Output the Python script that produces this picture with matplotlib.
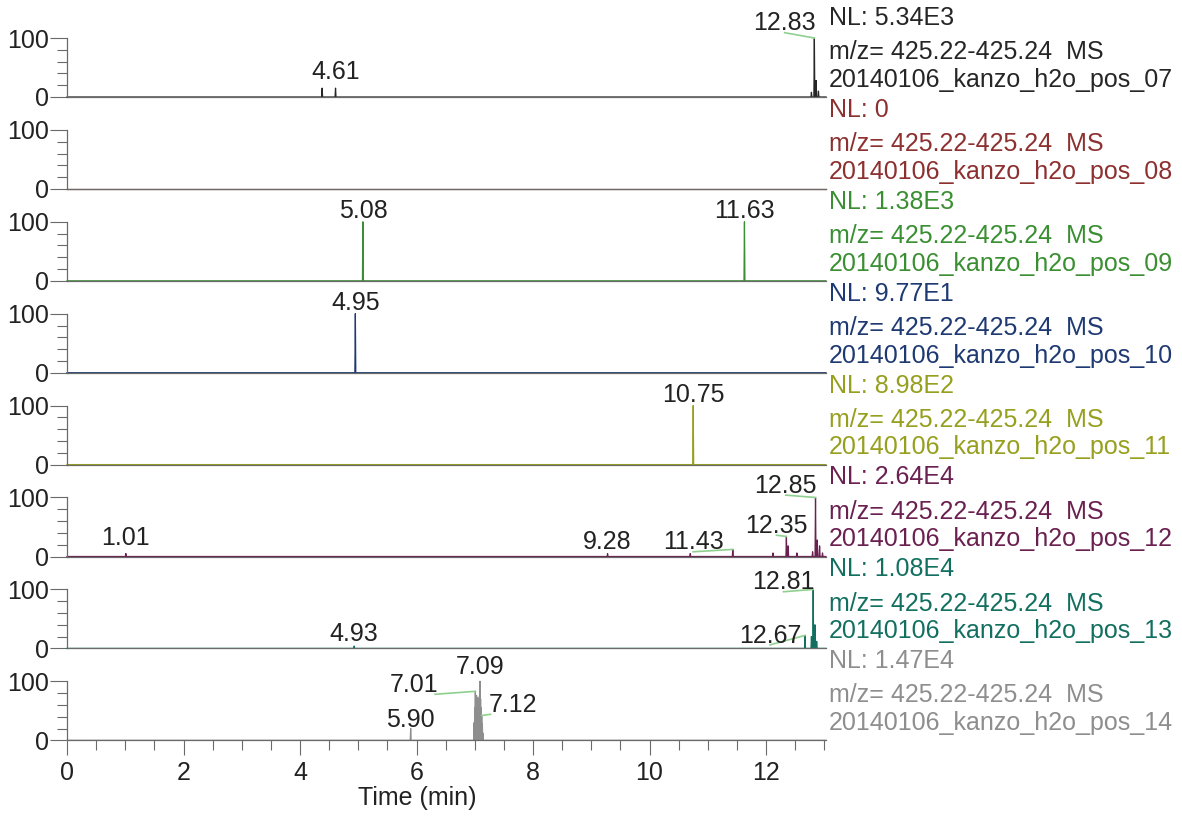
import matplotlib
matplotlib.use("Agg")
import matplotlib.pyplot as plt
from matplotlib.ticker import MultipleLocator, FixedLocator

plt.rcParams['font.family'] = ['Liberation Sans', 'DejaVu Sans']

# run names, normalisation levels and colours, one per trace
runs = ["20140106_kanzo_h2o_pos_07", "20140106_kanzo_h2o_pos_08",
        "20140106_kanzo_h2o_pos_09", "20140106_kanzo_h2o_pos_10",
        "20140106_kanzo_h2o_pos_11", "20140106_kanzo_h2o_pos_12",
        "20140106_kanzo_h2o_pos_13", "20140106_kanzo_h2o_pos_14"]
nl = ["5.34E3", "0", "1.38E3", "9.77E1", "8.98E2", "2.64E4", "1.08E4", "1.47E4"]
colors = ["#262626", "#8c3030", "#3a8f32", "#1f3a72",
          "#97a01e", "#6a2050", "#137060", "#8e8e8e"]
mz = "m/z= 425.22-425.24  MS"

# peak retention times (min) and relative abundance (%)
t07 = [4.38, 4.61, 12.78, 12.83, 12.86, 12.90]
h07 = [15, 15, 8, 100, 28, 10]
t08 = []
h08 = []
t09 = [5.08, 11.63]
h09 = [100, 100]
t10 = [4.95]
h10 = [100]
t11 = [10.75]
h11 = [100]
t12 = [1.01, 9.28, 10.70, 11.43, 12.12, 12.35, 12.38, 12.53, 12.80, 12.85, 12.88, 12.92, 12.97]
h12 = [5, 5, 5, 12, 6, 34, 18, 6, 8, 100, 28, 18, 6]
t13 = [4.93, 12.67, 12.78, 12.81, 12.84, 12.87]
h13 = [4, 22, 20, 100, 40, 12]
t14 = [5.90, 6.99, 7.00, 7.01, 7.02, 7.03, 7.04, 7.05, 7.06, 7.07, 7.08, 7.09,
       7.10, 7.11, 7.12, 7.13, 7.14]
h14 = [20, 30, 55, 83, 70, 76, 64, 72, 60, 68, 75, 100, 70, 55, 42, 28, 12]

times = [t07, t08, t09, t10, t11, t12, t13, t14]
heights = [h07, h08, h09, h10, h11, h12, h13, h14]

# labelled peaks per trace
labelled = [[4.61, 12.83], [], [5.08, 11.63], [4.95], [10.75],
            [1.01, 9.28, 11.43, 12.35, 12.85], [4.93, 12.67, 12.81],
            [5.90, 7.01, 7.09, 7.12]]

# label placement: peak -> (text centre x, baseline y, leader start x or None)
label_pos = [
    {4.61: (4.61, 30, None), 12.83: (12.32, 113, 12.32)},
    {},
    {5.08: (5.08, 106, None), 11.63: (11.63, 106, None)},
    {4.95: (4.95, 106, None)},
    {10.75: (10.75, 106, None)},
    {1.01: (1.01, 20, None), 9.28: (9.28, 12, None), 11.43: (10.75, 12, 10.75),
     12.35: (12.18, 40, 12.18), 12.85: (12.34, 108, 12.34)},
    {4.93: (4.93, 12, None), 12.67: (12.07, 10, 12.07), 12.81: (12.30, 100, 12.30)},
    {5.90: (5.90, 22, None), 7.01: (5.95, 82, 6.32), 7.09: (7.09, 112, None),
     7.12: (7.65, 48, 7.27)},
]

XMAX = 13.03
W, H = 1182, 817
fig = plt.figure(figsize=(W / 100, H / 100), dpi=100)

x0_px, x1_px = 67, 826
axes = []
for i in range(8):
    y100 = 38 + 91.9 * i
    y0 = y100 + 59
    ax = fig.add_axes([x0_px / W, 1 - y0 / H, (x1_px - x0_px) / W, 59 / H])
    axes.append(ax)

    # build the trace as a baseline with narrow triangular peaks
    xs, ys = [0.0], [0.0]
    for t, h in sorted(zip(times[i], heights[i])):
        xs += [t - 0.008, t, t + 0.008]
        ys += [0, h, 0]
    xs.append(XMAX)
    ys.append(0)
    ax.fill(xs, ys, color=colors[i], lw=0, clip_on=False)
    ax.plot(xs, ys, color=colors[i], lw=0.9, clip_on=False)

    ax.set_xlim(0, XMAX)
    ax.set_ylim(0, 100)
    for s in ["top", "right"]:
        ax.spines[s].set_visible(False)
    ax.spines["left"].set_color("#6a6a6a")
    ax.spines["bottom"].set_color("#6a6a6a")
    ax.spines["left"].set_linewidth(0.9)
    ax.spines["bottom"].set_linewidth(0.9)
    ax.yaxis.set_major_locator(FixedLocator([0, 100]))
    ax.yaxis.set_minor_locator(FixedLocator([20, 40, 60, 80]))
    ax.tick_params(axis="y", which="major", length=12, width=0.8, color="#6a6a6a",
                   labelsize=18, pad=1, labelcolor="#222222")
    ax.tick_params(axis="y", which="minor", length=7, width=0.8, color="#6a6a6a")
    ax.patch.set_alpha(0)

    if i < 7:
        ax.tick_params(axis="x", which="both", bottom=False, labelbottom=False)
    else:
        ax.xaxis.set_major_locator(MultipleLocator(2))
        ax.xaxis.set_minor_locator(MultipleLocator(0.5))
        ax.tick_params(axis="x", which="major", length=11, width=0.8, color="#6a6a6a",
                       labelsize=18, pad=4, labelcolor="#222222")
        ax.tick_params(axis="x", which="minor", length=7, width=0.8, color="#6a6a6a")
        ax.set_xlabel("Time (min)", fontsize=18, color="#222222")
        ax.xaxis.set_label_coords(0.462, -0.78)

    # peak labels with leader lines
    for rt in labelled[i]:
        idx = times[i].index(rt)
        h = heights[i][idx]
        lx, ly, lead = label_pos[i][rt]
        ax.text(lx, ly, f"{rt:.2f}", ha="center", va="baseline", fontsize=18,
                color="#222222", clip_on=False)
        if lead is not None:
            ax.plot([lead, rt], [ly - 4, h], color="#8fd08f", lw=1.2, clip_on=False)

    # run information at the right
    ax.text(1.004, 1.34, f"NL: {nl[i]}", transform=ax.transAxes, ha="left",
            va="center", fontsize=18, color=colors[i])
    ax.text(1.004, 0.76, mz, transform=ax.transAxes, ha="left",
            va="center", fontsize=18, color=colors[i])
    ax.text(1.004, 0.29, runs[i], transform=ax.transAxes, ha="left",
            va="center", fontsize=18, color=colors[i])

fig.savefig("out.png", dpi=100)
